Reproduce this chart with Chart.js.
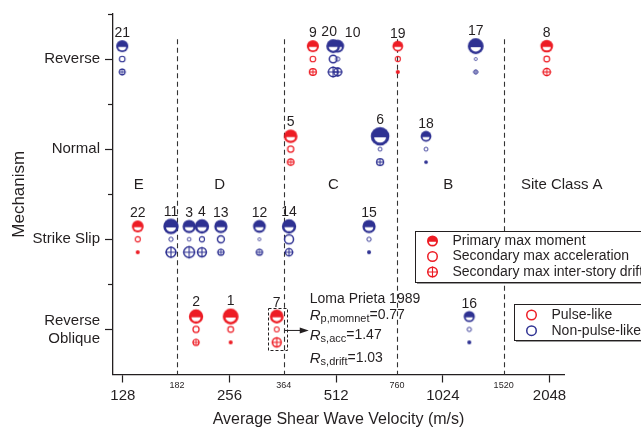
<!DOCTYPE html>
<html>
<head>
<meta charset="utf-8">
<script src="https://cdn.jsdelivr.net/npm/chart.js@4.4.1/dist/chart.umd.min.js"></script>
<style>
html, body { margin: 0; padding: 0; background: #fff; }
</style>
</head>
<body>
<canvas id="myChart" width="641" height="431"></canvas>
<script>
// earthquake records (index i -> quake number quakeIds[i])
var quakeIds = [1,2,3,4,5,6,7,8,9,10,11,12,13,14,15,16,17,18,19,20,21,22];
// 1 = Reverse Oblique, 2 = Strike Slip, 3 = Normal, 4 = Reverse
var mechanism = [1,1,2,2,3,3,1,4,4,4,2,2,2,2,2,1,4,3,4,4,4,2];
var vs30 = [258,206,197,214,381,681,348,2011,440,517,175,311,242,377,634,1216,1268,918,764,502,127.5,141];
var pulseLike = [1,1,0,0,1,0,1,1,1,0,0,0,0,0,0,0,0,0,1,0,0,1];
// ratios shown by marker size
var rMoment = [0.67,0.74,0.80,0.74,0.78,0.57,0.77,0.84,0.87,0.82,0.69,0.83,0.80,0.74,0.80,0.95,0.67,0.98,0.98,0.77,0.87,0.90];
var rAcc    = [1.24,1.17,1.86,1.37,1.17,1.78,1.47,1.24,1.28,1.64,1.64,2.28,1.03,0.82,1.64,1.64,2.28,1.78,1.37,0.95,1.28,1.37];
var rDrift  = [2.60,1.47,0.86,1.03,1.39,1.29,1.03,1.23,1.29,1.14,0.94,1.47,1.47,1.23,2.60,2.60,2.06,2.86,2.60,0.97,1.56,2.60];

var mechanismNames = ['', ['Reverse', 'Oblique'], 'Strike Slip', 'Normal', 'Reverse'];
var xTicks = [128, 256, 512, 1024, 2048];
var siteBounds = [182, 364, 760, 1520];
var siteClassNames = ['E', 'D', 'C', 'B', 'Site Class A'];
var siteClassAt = [142, 240, 503, 1061, 2217];

var RED = '#ed1c24', BLUE = '#2e3192', INK = '#231f20';
var FONT = "'Liberation Sans', Arial, sans-serif";
Chart.defaults.font.family = FONT;
Chart.defaults.color = INK;

var sizeScale = {moment: 5.3, acc: 4.3, drift: 5.3};
var rowShift = {moment: 0.143, acc: 0, drift: -0.143};
var ratios = {moment: rMoment, acc: rAcc, drift: rDrift};
var labelShift = {20: -4, 10: 15};

function drawMarker(g, kind, color, x, y, r) {
    g.save();
    if (kind === 'moment') {
        g.fillStyle = color;
        g.beginPath(); g.arc(x, y, r, 0, 2 * Math.PI); g.fill();
        g.fillStyle = '#fff';
        g.beginPath();
        g.ellipse(x, y + 0.12 * r, 0.64 * r, 0.56 * r, 0, 0, Math.PI);
        g.closePath(); g.fill();
    } else if (kind === 'drift' && r < 2.3) {
        // tiny crossed circles print as dots
        g.fillStyle = color;
        g.beginPath(); g.arc(x, y, r, 0, 2 * Math.PI); g.fill();
    } else {
        var lw = Math.min(1.5, 0.28 * r + 0.2);
        g.strokeStyle = color; g.lineWidth = lw;
        g.beginPath(); g.arc(x, y, Math.max(r - lw / 2, 0.5), 0, 2 * Math.PI); g.stroke();
        if (kind === 'drift') {
            g.lineWidth = Math.min(1.1, 0.25 * r);
            g.beginPath();
            g.moveTo(x - r, y); g.lineTo(x + r, y);
            g.moveTo(x, y - r); g.lineTo(x, y + r);
            g.stroke();
        }
    }
    g.restore();
}

function markerCanvas(kind, color, r) {
    var s = 2 * Math.ceil(r) + 4;
    var c = document.createElement('canvas');
    c.width = s; c.height = s;
    drawMarker(c.getContext('2d'), kind, color, s / 2, s / 2, r);
    return c;
}

function radiusOf(kind, i) { return sizeScale[kind] / ratios[kind][i]; }

var datasets = ['drift', 'acc', 'moment'].map(function (kind) {
    return {
        label: kind,
        data: quakeIds.map(function (id, i) { return {x: vs30[i], y: mechanism[i] + rowShift[kind]}; }),
        pointStyle: quakeIds.map(function (id, i) {
            return markerCanvas(kind, pulseLike[i] ? RED : BLUE, radiusOf(kind, i));
        }),
        pointRadius: quakeIds.map(function (id, i) { return radiusOf(kind, i); }),
        showLine: false,
        clip: false
    };
});

function subText(g, x, y, main, sub, rest) {
    g.font = 'italic 15px ' + FONT;
    g.fillText(main, x, y);
    x += g.measureText(main).width;
    g.font = '11px ' + FONT;
    g.fillText(sub, x, y + 4);
    x += g.measureText(sub).width;
    g.font = '14px ' + FONT;
    g.fillText(rest, x, y);
}

var extras = {
    id: 'extras',
    beforeDatasetsDraw: function (chart) {
        var g = chart.ctx, xs = chart.scales.x, ys = chart.scales.y, area = chart.chartArea;
        g.save();
        g.strokeStyle = '#333'; g.lineWidth = 1.1; g.setLineDash([5, 3.5]);
        siteBounds.forEach(function (v) {
            var px = Math.round(xs.getPixelForValue(v)) + 0.5;
            g.beginPath(); g.moveTo(px, ys.getPixelForValue(4.22)); g.lineTo(px, area.bottom); g.stroke();
        });
        g.restore();
    },
    afterDatasetsDraw: function (chart) {
        var g = chart.ctx, xs = chart.scales.x, ys = chart.scales.y, area = chart.chartArea;
        g.save();
        g.fillStyle = INK;
        g.textAlign = 'center'; g.textBaseline = 'middle';

        // site bound labels under the axis
        g.font = '9px ' + FONT;
        siteBounds.forEach(function (v) {
            g.fillText(String(v), xs.getPixelForValue(v), area.bottom + 11);
        });

        // minor y ticks
        g.strokeStyle = INK; g.lineWidth = 1.2;
        [1.5, 2.5, 3.5, 4.5].forEach(function (v) {
            var py = Math.round(ys.getPixelForValue(v)) + 0.5;
            g.beginPath(); g.moveTo(area.left - 5, py); g.lineTo(area.left, py); g.stroke();
        });

        // site class names
        g.font = '15px ' + FONT;
        siteClassNames.forEach(function (s, k) {
            g.fillText(s, xs.getPixelForValue(siteClassAt[k]), ys.getPixelForValue(2.607));
        });

        // quake numbers
        g.font = '14px ' + FONT;
        quakeIds.forEach(function (id, i) {
            var px = xs.getPixelForValue(vs30[i]) + (labelShift[id] || 0);
            var py = ys.getPixelForValue(mechanism[i] + rowShift.moment) - radiusOf('moment', i) - 7;
            g.fillText(String(id), px, py);
        });

        // Loma Prieta note on quake 7
        var k = quakeIds.indexOf(7);
        var x7 = xs.getPixelForValue(vs30[k]), y7 = ys.getPixelForValue(mechanism[k]);
        g.strokeStyle = INK; g.lineWidth = 1; g.setLineDash([3, 2]);
        g.strokeRect(Math.round(x7 - 8.5) + 0.5, Math.round(y7 - 21) + 0.5, 19, 42);
        g.setLineDash([]);
        g.beginPath(); g.moveTo(x7 + 8, y7 + 1); g.lineTo(x7 + 26, y7 + 1); g.stroke();
        g.beginPath(); g.moveTo(x7 + 32, y7 + 1); g.lineTo(x7 + 23, y7 - 2); g.lineTo(x7 + 23, y7 + 4); g.closePath(); g.fill();
        g.textAlign = 'left';
        var tx = x7 + 33;
        g.font = '14px ' + FONT;
        g.fillText('Loma Prieta 1989', tx, y7 - 30);
        subText(g, tx, y7 - 14, 'R', 'p,momnet', '=0.77');
        subText(g, tx, y7 + 6, 'R', 's,acc', '=1.47');
        subText(g, tx, y7 + 29, 'R', 's,drift', '=1.03');

        // legend boxes
        function box(x0, y0, w, h) {
            g.fillStyle = '#9a9a9a'; g.fillRect(x0 + 2, y0 + 2, w, h);
            g.fillStyle = '#fff'; g.fillRect(x0, y0, w, h);
            g.strokeStyle = INK; g.lineWidth = 1; g.strokeRect(x0 + 0.5, y0 + 0.5, w, h);
        }
        box(415, 231, 240, 51);
        var rows = [['moment', 'Primary max moment'], ['acc', 'Secondary max acceleration'], ['drift', 'Secondary max inter-story drift']];
        g.font = '14px ' + FONT;
        rows.forEach(function (r, j) {
            var yy = 241 + j * 15.5;
            drawMarker(g, r[0], RED, 432.5, yy, 5.5);
            g.fillStyle = INK; g.fillText(r[1], 452.5, yy);
        });
        box(514, 304, 140, 36);
        [[RED, 'Pulse-like'], [BLUE, 'Non-pulse-like']].forEach(function (r, j) {
            var yy = 315 + j * 15.7;
            drawMarker(g, 'acc', r[0], 531.5, yy, 5.5);
            g.fillStyle = INK; g.fillText(r[1], 551.5, yy);
        });
        g.restore();
    }
};

new Chart('myChart', {
    type: 'scatter',
    data: {datasets: datasets},
    options: {
        responsive: false,
        animation: false,
        events: [],
        layout: {padding: {left: 0, right: 77, top: 11.5, bottom: 0}},
        plugins: {legend: {display: false}, tooltip: {enabled: false}},
        scales: {
            x: {
                type: 'logarithmic',
                min: 120.1, max: 2250,
                afterBuildTicks: function (s) { s.ticks = xTicks.map(function (v) { return {value: v}; }); },
                afterFit: function (s) { s.height = 56.5; },
                ticks: {
                    callback: function (v) { return String(v); },
                    font: {size: 15}, color: INK, padding: 4, maxRotation: 0, autoSkip: false
                },
                grid: {drawOnChartArea: false, tickLength: 8, tickColor: INK, tickWidth: 1.2},
                border: {color: INK, width: 1.3},
                title: {display: true, text: 'Average Shear Wave Velocity (m/s)', font: {size: 16}, color: INK, padding: {top: 0, bottom: 2}}
            },
            y: {
                min: 0.5, max: 4.5,
                afterBuildTicks: function (s) { s.ticks = [1, 2, 3, 4].map(function (v) { return {value: v}; }); },
                afterFit: function (s) { s.width = 113; },
                ticks: {
                    callback: function (v) { return mechanismNames[v]; },
                    font: {size: 15, lineHeight: 1.2}, color: INK, padding: 5
                },
                grid: {drawOnChartArea: false, tickLength: 8, tickColor: INK, tickWidth: 1.2},
                border: {color: INK, width: 1.3},
                title: {display: true, text: 'Mechanism', font: {size: 17}, color: INK, padding: {top: 9, bottom: 0}}
            }
        }
    },
    plugins: [extras]
});
</script>
</body>
</html>
